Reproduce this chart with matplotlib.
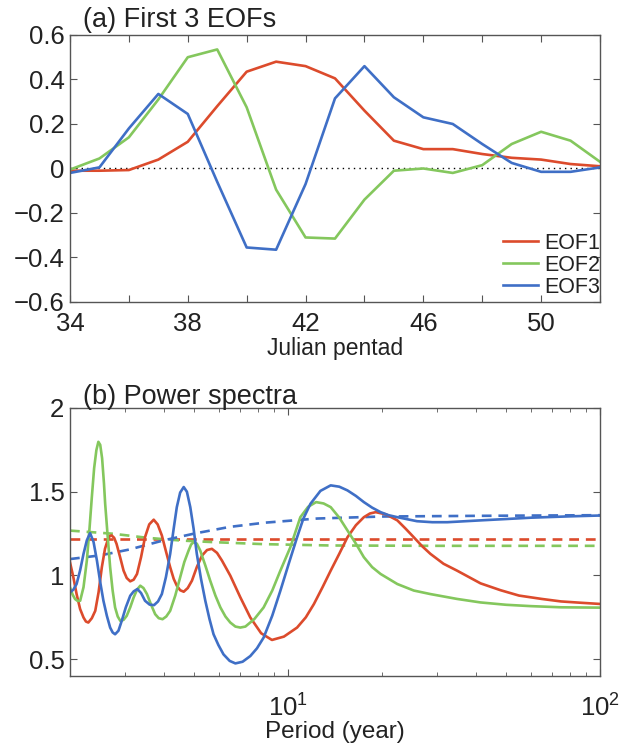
import numpy as np
import matplotlib
matplotlib.use("Agg")
import matplotlib.pyplot as plt
from matplotlib.ticker import LogLocator, NullFormatter

plt.rcParams['font.family'] = ['Liberation Sans', 'DejaVu Sans']
plt.rcParams['mathtext.fontset'] = 'custom'
plt.rcParams['mathtext.rm'] = 'Liberation Sans'
plt.rcParams['axes.unicode_minus'] = True

# ---- panel (a): EOF loadings by Julian pentad ----
pentad = np.arange(34, 53)
eof1 = [-0.01, -0.01, -0.007, 0.04, 0.12, 0.28, 0.435, 0.48, 0.46, 0.405,
        0.26, 0.125, 0.087, 0.087, 0.065, 0.048, 0.04, 0.02, 0.01]
eof2 = [-0.005, 0.045, 0.14, 0.31, 0.50, 0.535, 0.275, -0.095, -0.31, -0.315,
        -0.14, -0.01, 0.0, -0.02, 0.015, 0.11, 0.165, 0.125, 0.03]
eof3 = [-0.02, 0.005, 0.18, 0.335, 0.245, -0.06, -0.355, -0.365, -0.07, 0.315,
        0.46, 0.32, 0.23, 0.20, 0.11, 0.025, -0.015, -0.015, 0.005]
eof_labels = ['EOF1', 'EOF2', 'EOF3']

# ---- panel (b): power spectra (period in years) ----
p_red = [2.0, 2.05, 2.10, 2.155, 2.21, 2.25, 2.29, 2.35, 2.41, 2.47, 2.53, 2.59,
         2.64, 2.68, 2.72, 2.77, 2.82, 2.895, 2.97, 3.04, 3.12, 3.20, 3.28, 3.38,
         3.48, 3.59, 3.71, 3.82, 3.94, 4.06, 4.19, 4.30, 4.40, 4.51, 4.63, 4.77,
         4.92, 5.10, 5.30, 5.50, 5.70, 5.92, 6.14, 6.53, 7.03, 7.57, 8.2, 8.88,
         9.7, 10.69, 11.4, 12.1, 12.9, 13.7, 14.6, 15.5, 16.5, 17.5, 18.3, 19.1,
         20.6, 22.4, 23.8, 25.3, 26.9, 28.6, 31.5, 34.8, 41.4, 48.0, 55.0, 65.0,
         75.0, 87.0, 100.0]
s_red = [1.079, 0.99, 0.889, 0.80, 0.749, 0.725, 0.719, 0.745, 0.789, 0.90,
         1.049, 1.16, 1.209, 1.235, 1.239, 1.225, 1.189, 1.11, 1.029, 0.985,
         0.965, 0.975, 1.009, 1.11, 1.229, 1.305, 1.333, 1.305, 1.239, 1.145,
         1.049, 0.98, 0.939, 0.912, 0.903, 0.925, 0.969, 1.05, 1.119, 1.152,
         1.159, 1.135, 1.089, 0.999, 0.87, 0.749, 0.655, 0.615, 0.635, 0.689,
         0.75, 0.829, 0.93, 1.029, 1.13, 1.228, 1.30, 1.348, 1.37, 1.378,
         1.365, 1.329, 1.28, 1.228, 1.175, 1.129, 1.07, 1.029, 0.953, 0.912,
         0.88, 0.86, 0.845, 0.837, 0.83]

p_green = [2.0, 2.04, 2.077, 2.115, 2.156, 2.21, 2.265, 2.31, 2.35, 2.39, 2.43,
           2.466, 2.50, 2.535, 2.57, 2.593, 2.64, 2.69, 2.74, 2.79, 2.845, 2.90,
           2.97, 3.04, 3.12, 3.20, 3.28, 3.36, 3.44, 3.53, 3.64, 3.75, 3.85,
           3.96, 4.07, 4.19, 4.35, 4.51, 4.65, 4.80, 4.89, 4.98, 5.10, 5.23,
           5.43, 5.63, 5.85, 6.07, 6.30, 6.53, 6.78, 7.03, 7.3, 7.8, 8.35, 8.9,
           9.45, 10.17, 10.95, 11.6, 12.3, 13.0, 13.7, 14.6, 15.5, 16.5, 17.5,
           18.6, 19.8, 22.4, 25.3, 28.6, 34.8, 41.4, 50.0, 60.0, 75.0, 100.0]
s_green = [0.929, 0.885, 0.859, 0.848, 0.849, 0.93, 1.089, 1.28, 1.468, 1.64,
           1.748, 1.798, 1.78, 1.70, 1.55, 1.428, 1.24, 1.049, 0.91, 0.809,
           0.755, 0.729, 0.735, 0.759, 0.81, 0.869, 0.915, 0.939, 0.925, 0.889,
           0.825, 0.769, 0.745, 0.739, 0.755, 0.789, 0.88, 0.989, 1.08, 1.149,
           1.185, 1.199, 1.19, 1.149, 1.06, 0.969, 0.88, 0.809, 0.755, 0.719,
           0.695, 0.689, 0.695, 0.74, 0.809, 0.91, 1.029, 1.168, 1.348, 1.41,
           1.438, 1.43, 1.408, 1.345, 1.269, 1.19, 1.109, 1.05, 1.009, 0.949,
           0.91, 0.889, 0.86, 0.839, 0.825, 0.817, 0.81, 0.808]

p_blue = [2.0, 2.05, 2.10, 2.155, 2.21, 2.265, 2.32, 2.38, 2.44, 2.50, 2.56,
          2.625, 2.69, 2.74, 2.79, 2.86, 2.93, 3.02, 3.12, 3.20, 3.29, 3.38,
          3.48, 3.60, 3.72, 3.83, 3.94, 4.06, 4.19, 4.30, 4.40, 4.51, 4.63,
          4.74, 4.86, 4.98, 5.10, 5.26, 5.43, 5.60, 5.77, 5.98, 6.21, 6.50,
          6.78, 7.15, 7.57, 7.95, 8.35, 8.9, 9.45, 10.05, 10.69, 11.2, 11.8,
          12.7, 13.7, 14.6, 15.5, 16.5, 17.5, 18.6, 19.8, 21.0, 22.4, 25.9,
          29.0, 32.4, 41.4, 50.0, 60.0, 80.0, 100.0]
s_blue = [0.899, 0.915, 0.949, 1.03, 1.129, 1.21, 1.253, 1.20, 1.089, 0.96,
          0.849, 0.76, 0.689, 0.66, 0.649, 0.67, 0.729, 0.81, 0.879, 0.905,
          0.919, 0.895, 0.849, 0.826, 0.823, 0.845, 0.889, 0.99, 1.129, 1.28,
          1.408, 1.495, 1.528, 1.50, 1.408, 1.28, 1.129, 0.98, 0.849, 0.74,
          0.649, 0.585, 0.529, 0.49, 0.475, 0.485, 0.519, 0.565, 0.629, 0.76,
          0.909, 1.07, 1.228, 1.34, 1.428, 1.505, 1.538, 1.53, 1.508, 1.475,
          1.438, 1.405, 1.378, 1.36, 1.348, 1.324, 1.318, 1.318, 1.329, 1.337,
          1.345, 1.353, 1.358]

# red-noise reference spectra (dashed)
p_red_ref = [2.0, 100.0]
s_red_ref = [1.22, 1.22]
p_green_ref = [2.0, 2.757, 3.53, 4.51, 5.77, 8.35, 13.7, 30.0, 100.0]
s_green_ref = [1.268, 1.249, 1.225, 1.209, 1.199, 1.187, 1.179, 1.177, 1.177]
p_blue_ref = [2.0, 2.5, 3.1, 4.0, 5.0, 6.5, 8.4, 12.4, 20.0, 40.0, 100.0]
s_blue_ref = [1.098, 1.12, 1.155, 1.21, 1.25, 1.29, 1.315, 1.34, 1.352, 1.356, 1.36]

red = '#dc4b2c'
green = '#84c75d'
blue = '#3f6fc6'
colors = [red, green, blue]
axis_col = '#555555'
text_col = '#222222'

fig = plt.figure(figsize=(6.21, 7.49), dpi=100)
ax1 = fig.add_axes([0.1127, 0.5968, 0.8535, 0.3565])
ax2 = fig.add_axes([0.1127, 0.0975, 0.8535, 0.3578])


def style_axes(ax):
    for sp in ax.spines.values():
        sp.set_color(axis_col)
        sp.set_linewidth(1.0)
    ax.tick_params(which='both', direction='in', top=True, right=True,
                   color=axis_col, labelcolor=text_col, labelsize=18.5)
    ax.tick_params(which='major', length=5)
    ax.tick_params(which='minor', length=3)
    ax.tick_params(axis='y', pad=4)


# panel (a)
ax1.axhline(0, color='k', lw=1.0, ls=(0, (1, 3)))
for vals, c, lab in zip([eof1, eof2, eof3], colors, eof_labels):
    ax1.plot(pentad, vals, color=c, lw=1.9, label=lab)
ax1.set_xlim(34, 52)
ax1.set_ylim(-0.6, 0.6)
ax1.set_xticks(np.arange(34, 53, 2))
ax1.set_xticklabels([str(v) if (v - 34) % 4 == 0 else '' for v in range(34, 53, 2)])
yt = [-0.6, -0.4, -0.2, 0, 0.2, 0.4, 0.6]
ax1.set_yticks(yt)
ax1.set_yticklabels(['\u22120.6', '\u22120.4', '\u22120.2', '0', '0.2', '0.4', '0.6'])
style_axes(ax1)
ax1.tick_params(axis='x', pad=7)
ax1.set_xlabel('Julian pentad', fontsize=16.5, color=text_col, labelpad=1)
ax1.text(0.0245, 1.03, '(a) First 3 EOFs', transform=ax1.transAxes,
         fontsize=19.5, color=text_col, va='baseline', ha='left')
leg = ax1.legend(loc='lower right', bbox_to_anchor=(1.0, 0.015), frameon=False,
                 fontsize=15.5, handlelength=1.6, handletextpad=0.3,
                 labelspacing=0.05, borderaxespad=0.0, borderpad=0.0)
for t in leg.get_texts():
    t.set_color(text_col)

# panel (b)
ax2.plot(p_red_ref, s_red_ref, color=red, lw=1.9, ls=(0, (3.7, 2.6)))
ax2.plot(p_green_ref, s_green_ref, color=green, lw=1.9, ls=(0, (3.7, 2.6)))
ax2.plot(p_blue_ref, s_blue_ref, color=blue, lw=1.9, ls=(0, (3.7, 2.6)))
ax2.plot(p_red, s_red, color=red, lw=1.9)
ax2.plot(p_green, s_green, color=green, lw=1.9)
ax2.plot(p_blue, s_blue, color=blue, lw=1.9)
ax2.set_xscale('log')
ax2.set_xlim(2, 100)
ax2.set_ylim(0.4, 2)
ax2.set_yticks([0.5, 1, 1.5, 2])
ax2.set_yticklabels(['0.5', '1', '1.5', '2'])
ax2.xaxis.set_major_locator(LogLocator(base=10, numticks=5))
ax2.xaxis.set_minor_locator(LogLocator(base=10, subs=np.arange(2, 10), numticks=20))
ax2.xaxis.set_minor_formatter(NullFormatter())
style_axes(ax2)
ax2.tick_params(axis='x', which='major', pad=13)
ax2.set_xlabel('Period (year)', fontsize=17.5, color=text_col, labelpad=0)
ax2.text(0.0245, 1.015, '(b) Power spectra', transform=ax2.transAxes,
         fontsize=19.5, color=text_col, va='baseline', ha='left')

fig.savefig('out.png', dpi=100, facecolor='white')
